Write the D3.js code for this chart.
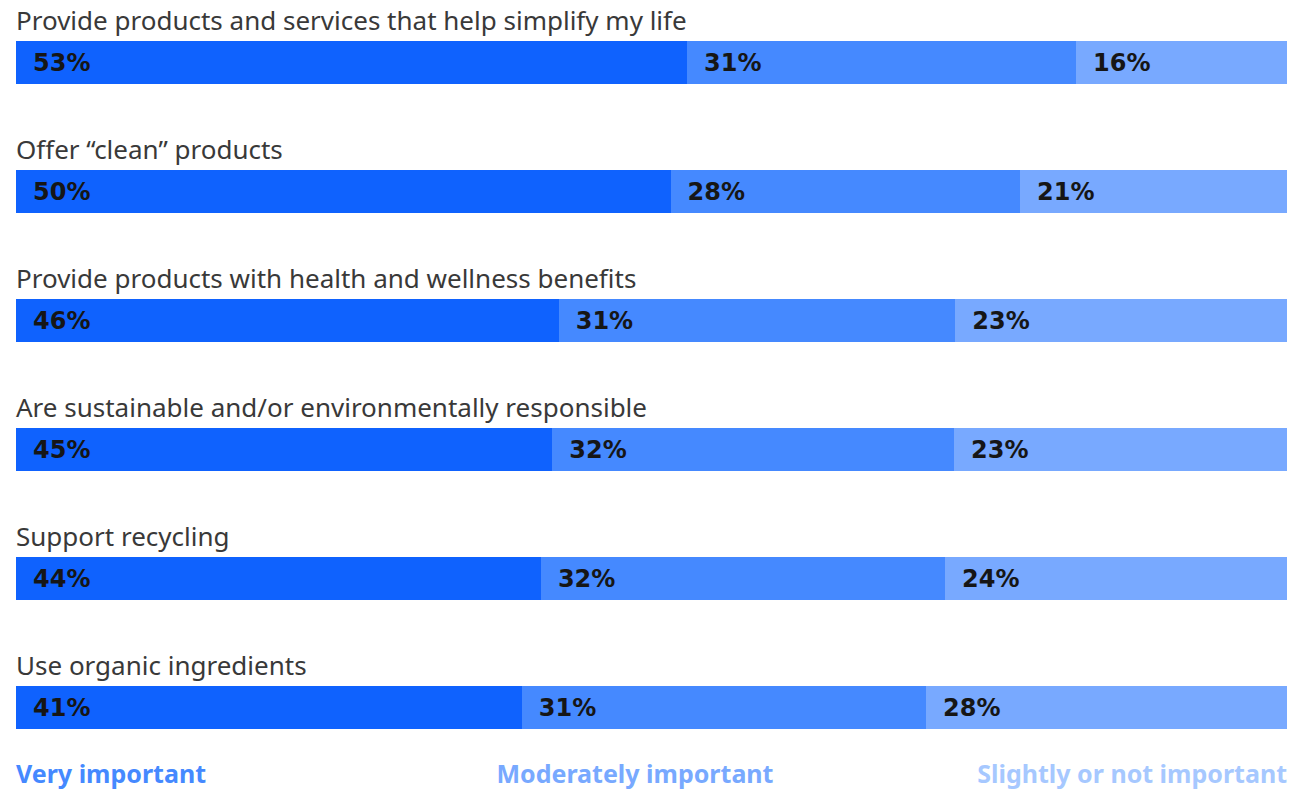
<!DOCTYPE html>
<html>
<head>
<meta charset="utf-8">
<script src="https://cdn.jsdelivr.net/npm/d3@7"></script>
<style>
  body { margin: 0; background: #fff; }
  svg { display: block; font-family: "Noto Sans", "Open Sans", sans-serif; }
  .cat { font-size: 26px; fill: #393939; font-weight: 400; }
  .pct { font-size: 24px; fill: #161616; font-weight: 700; font-family: "DejaVu Sans", "Noto Sans", sans-serif; }
  .leg { font-size: 25px; font-weight: 700; }
  rect { shape-rendering: crispEdges; }
</style>
</head>
<body>
<div class="graphContainer"></div>
<script>
// categories, top to bottom
const categories = [
  "Provide products and services that help simplify my life",
  "Offer \u201cclean\u201d products",
  "Provide products with health and wellness benefits",
  "Are sustainable and/or environmentally responsible",
  "Support recycling",
  "Use organic ingredients"
];

// segment lengths as drawn in the picture (share of the full bar, %)
const veryLen     = [52.8, 51.5, 42.7, 42.2, 41.3, 39.8];
const moderateLen = [30.6, 27.5, 31.2, 31.6, 31.8, 31.8];
const slightLen   = [16.6, 20.9, 26.1, 26.1, 26.9, 28.4];

// printed labels
const veryLbl     = [53, 50, 46, 45, 44, 41];
const moderateLbl = [31, 28, 31, 32, 32, 31];
const slightLbl   = [16, 21, 23, 23, 24, 28];

const seriesNames = ["Very important", "Moderately important", "Slightly or not important"];

const w = 1303, h = 790;
const left = 16, right = 1287;
const barH = 43;

const barColors = ["#0f62fe", "#4589ff", "#78a9ff"];
const legColors = ["#4589ff", "#78a9ff", "#a6c8ff"];

const svg = d3.select(".graphContainer")
  .append("svg")
  .attr("width", w)
  .attr("height", h);

const xScale = d3.scaleLinear()
  .domain([0, 100])
  .range([left, right]);

const yScale = d3.scalePoint()
  .domain(categories)
  .range([41, 686]);

const lens = [veryLen, moderateLen, slightLen];
const lbls = [veryLbl, moderateLbl, slightLbl];

const rows = categories.map((c, i) => {
  let acc = 0;
  const segs = lens.map((arr, k) => {
    const s = { k: k, x0: acc, x1: acc + arr[i], label: lbls[k][i] + "%" };
    acc += arr[i];
    return s;
  });
  // last segment fills to the end of the bar
  segs[2].x1 = Math.max(segs[2].x1, 100);
  return { cat: c, segs: segs };
});

const g = svg.selectAll("g.row")
  .data(rows)
  .enter()
  .append("g")
  .attr("class", "row")
  .attr("transform", d => "translate(0," + Math.round(yScale(d.cat)) + ")");

g.append("text")
  .attr("class", "cat")
  .attr("x", left)
  .attr("y", -11)
  .text(d => d.cat);

g.selectAll("rect")
  .data(d => d.segs)
  .enter()
  .append("rect")
  .attr("x", d => Math.round(xScale(d.x0)))
  .attr("y", 0)
  .attr("width", d => Math.round(xScale(d.x1)) - Math.round(xScale(d.x0)))
  .attr("height", barH)
  .attr("fill", d => barColors[d.k]);

g.selectAll("text.pct")
  .data(d => d.segs)
  .enter()
  .append("text")
  .attr("class", "pct")
  .attr("x", d => xScale(d.x0) + 17)
  .attr("y", 30)
  .text(d => d.label);

// legend
const legAnchor = ["start", "middle", "end"];
const legX = [xScale(0), xScale(48.7), xScale(100)];
svg.selectAll("text.leg")
  .data(seriesNames)
  .enter()
  .append("text")
  .attr("class", "leg")
  .attr("x", (d, i) => legX[i])
  .attr("y", 783)
  .attr("text-anchor", (d, i) => legAnchor[i])
  .attr("fill", (d, i) => legColors[i])
  .text(d => d);
</script>
</body>
</html>
